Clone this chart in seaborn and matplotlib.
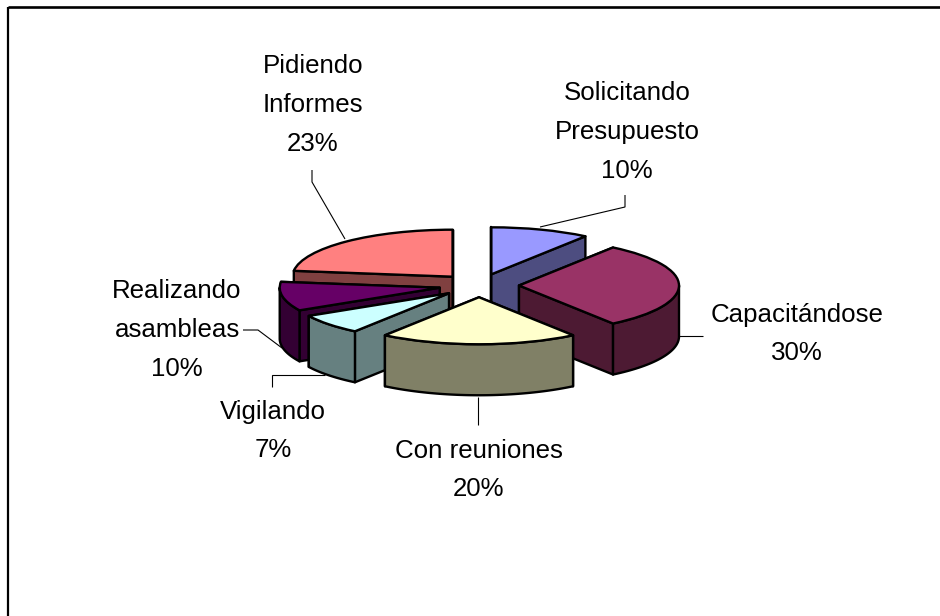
import numpy as np
import matplotlib
matplotlib.use("Agg")
import matplotlib.pyplot as plt
from matplotlib.lines import Line2D
from matplotlib.patches import Polygon
from matplotlib.transforms import Affine2D
import seaborn as sns

names = ["Solicitando\nPresupuesto", "Capacitándose", "Con reuniones",
         "Vigilando", "Realizando\nasambleas", "Pidiendo\nInformes"]
values = [10, 30, 20, 7, 10, 23]
hex_colors = ["#9999FF", "#993366", "#FFFFCC", "#CCFFFF", "#660066", "#FF8080"]

sns.set_theme(style="white")
plt.rcParams["font.family"] = ["Liberation Sans", "DejaVu Sans"]
palette = sns.color_palette(hex_colors)

W, H = 940, 616
CX, CY, RX, RY = 479.0, 285.5, 160.0, 47.0   # ellipse geometry in pixels
DEPTH = 51.0 / RY
EXPLODE = 0.25
LW = 1.7

fig = plt.figure(figsize=(W / 100, H / 100), dpi=100, facecolor="white")
ax = fig.add_axes([0, 0, 1, 1])
wedges, _ = ax.pie(values, explode=[EXPLODE] * len(values), startangle=90,
                   counterclock=False, radius=1, colors=palette,
                   wedgeprops=dict(edgecolor="black", linewidth=LW, joinstyle="round"))
ax.set_aspect("auto")
ax.set_xlim((0 - CX) / RX, (W - CX) / RX)
ax.set_ylim((CY - H) / RY, CY / RY)
ax.axis("off")

draw_order = [5, 0, 4, 3, 1, 2]
edges = np.concatenate([[0], np.cumsum(values)]) / np.sum(values) * 360.0


def pt(a):
    r = np.radians(a)
    return np.array([np.sin(r), np.cos(r)])


for rank, i in enumerate(draw_order):
    a0, a1 = edges[i], edges[i + 1]
    mid = (a0 + a1) / 2
    apex = EXPLODE * pt(mid)
    wall = tuple(c * 0.5 for c in palette[i])
    z = 2 + rank
    faces = []
    for a in (a0, a1):
        p = apex + pt(a)
        faces.append([apex, p, p - [0, DEPTH], apex - [0, DEPTH]])
    lo, hi = max(a0, 90), min(a1, 270)
    if hi > lo:
        arc = [apex + pt(a) for a in np.linspace(lo, hi, 60)]
        faces.append(arc + [q - [0, DEPTH] for q in arc[::-1]])
    faces.sort(key=lambda f: np.mean(np.array(f)[:, 1]), reverse=True)
    for k, f in enumerate(faces):
        ax.add_patch(Polygon(np.array(f), closed=True, facecolor=wall, edgecolor="black",
                             linewidth=LW, joinstyle="round", zorder=z + 0.01 * k))
    wedges[i].set_zorder(z + 0.5)

px = Affine2D().scale(1, -1).translate(0, H)
ln = dict(color="black", transform=px, solid_capstyle="butt", solid_joinstyle="miter")

# Frame: only the top and left rules are present in the picture
fig.add_artist(Line2D([7.5, W], [7, 7], linewidth=1.9, **ln))
fig.add_artist(Line2D([7.5, 7.5], [7, H], linewidth=1.6, **ln))

leaders = [
    ([625, 625, 540], [195, 207, 227]),
    ([679, 703], [336, 336]),
    ([478, 478], [397, 425]),
    ([272, 272, 325], [387, 375, 375]),
    ([243, 258, 282], [330, 330, 348]),
    ([312, 312, 345], [170, 182, 239]),
]
for xs, ys in leaders:
    fig.add_artist(Line2D(xs, ys, linewidth=0.8, **ln))

label_pos = [(627, 132), (797, 334), (479, 470), (273, 431), (177, 330), (313, 105)]
for name, v, (x, y) in zip(names, values, label_pos):
    fig.text(x, y, f"{name}\n{v}%", transform=px, ha="center", va="center",
             ma="center", fontsize=18.6, color="black", linespacing=1.77)

fig.savefig("out.png", dpi=100, facecolor="white")
